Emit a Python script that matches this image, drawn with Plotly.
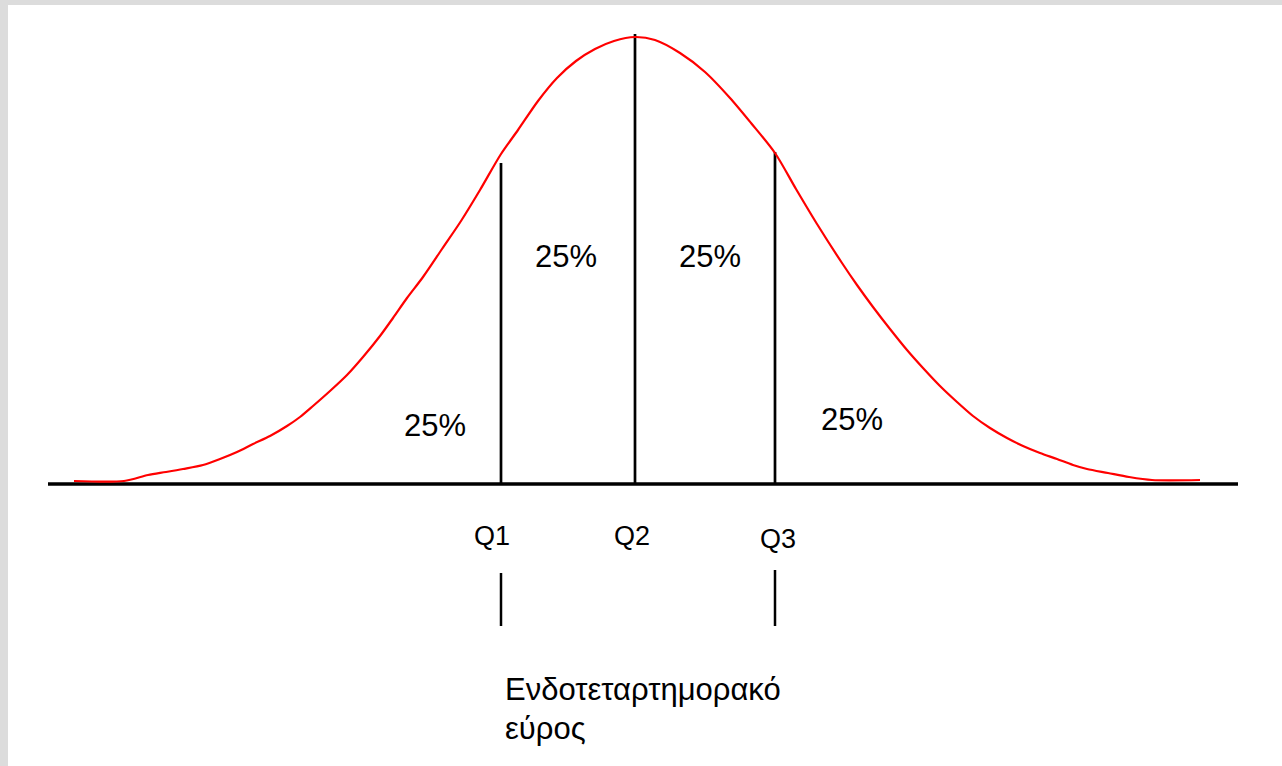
import plotly.graph_objects as go

# bell curve: offset from the median, height above the baseline
CURVE_X = [-561, -511, -487, -469, -452, -432, -415, -398, -382, -365, -348, -335,
           -322, -305, -288, -272, -255, -242, -228, -212, -193, -174, -155, -134,
           -117, -97, -78, -59, -40, -21, 0,
           20, 45, 70, 95, 116, 140, 161, 182, 207, 222, 238, 255, 272, 288, 305,
           322, 338, 355, 372, 388, 405, 422, 438, 452, 473, 494, 517, 565]
CURVE_H = [3, 3, 9, 12, 15, 19, 25, 32, 40, 48, 58, 67,
           78, 93, 109, 127, 148, 166, 186, 207, 235, 263, 294, 330,
           354, 383, 406, 423, 435, 443, 447,
           444, 431, 412, 386, 361, 331, 295, 260, 221, 199, 177, 155, 134, 116, 98,
           82, 68, 56, 46, 38, 31, 25, 19, 15, 11, 7, 4, 4]

QUARTILE_NAMES = ["Q1", "Q2", "Q3"]
QUARTILE_X = [-134, 0, 140]
QUARTILE_H = [321, 450, 332]

AXIS_X = [-587, 603]
IQR_TICK_TOP = [-89, -86]
IQR_TICK_BOTTOM = [-142, -142]

SHARE_TEXT = ["25%", "25%", "25%", "25%"]
SHARE_X = [-200, -69, 75, 217]
SHARE_H = [59, 228, 228, 65]

IQR_LABEL = ["Ενδοτεταρτημορακό", "εύρος"]

FONT = "Liberation Sans, Arial, sans-serif"

fig = go.Figure()

# baseline
fig.add_trace(go.Scatter(x=AXIS_X, y=[0, 0], mode="lines",
                         line=dict(color="black", width=3.5)))

# quartile lines up to the curve
for qx, qh in zip(QUARTILE_X, QUARTILE_H):
    fig.add_trace(go.Scatter(x=[qx, qx], y=[0, qh], mode="lines",
                             line=dict(color="black", width=2.7)))

# curve
fig.add_trace(go.Scatter(x=CURVE_X, y=CURVE_H, mode="lines",
                         line=dict(color="#ff0000", width=2.2, shape="spline", smoothing=0.8)))

# small ticks marking the interquartile range
for qx, top, bot in zip([QUARTILE_X[0], QUARTILE_X[2]], IQR_TICK_TOP, IQR_TICK_BOTTOM):
    fig.add_trace(go.Scatter(x=[qx, qx], y=[top, bot], mode="lines",
                             line=dict(color="black", width=2.5)))

for txt, sx, sh in zip(SHARE_TEXT, SHARE_X, SHARE_H):
    fig.add_annotation(x=sx, y=sh, text=txt, showarrow=False,
                       font=dict(family=FONT, size=31, color="black"))

label_y = [-52, -52, -55]
for name, qx, ly in zip(QUARTILE_NAMES, [-143, -3, 143], label_y):
    fig.add_annotation(x=qx, y=ly, text=name, showarrow=False,
                       font=dict(family=FONT, size=27, color="black"))

for line, ly in zip(IQR_LABEL, [-205, -244]):
    fig.add_annotation(x=-132, y=ly, text=line, showarrow=False, xanchor="left",
                       font=dict(family=FONT, size=31, color="black"))

fig.update_layout(
    width=1282,
    height=766,
    margin=dict(l=8, r=0, t=5, b=0),
    paper_bgcolor="#dcdcdc",
    plot_bgcolor="white",
    showlegend=False,
    hovermode=False,
    xaxis=dict(range=[-627, 647], visible=False, fixedrange=True),
    yaxis=dict(range=[-282, 479], visible=False, fixedrange=True),
)

fig.write_html("out.html", config={"displayModeBar": False},
               post_script="document.body.style.margin='0';")
